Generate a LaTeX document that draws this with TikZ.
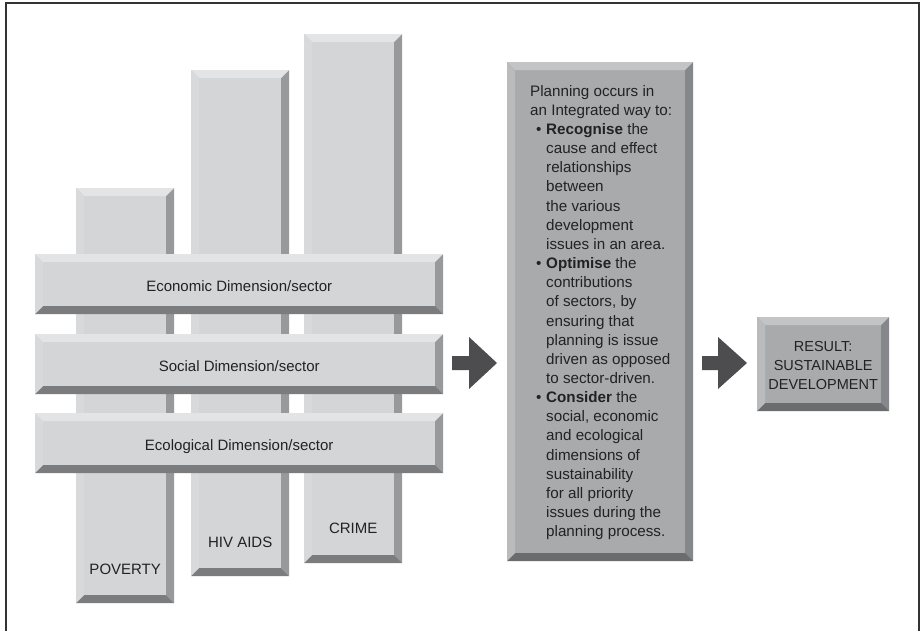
\documentclass[tikz,border=0pt]{standalone}
\usepackage{fontspec}
\setmainfont{Liberation Sans}
\usepackage{tikz}
\usetikzlibrary{positioning}

\definecolor{barface}{HTML}{D4D5D7}
\definecolor{barlight}{HTML}{E3E4E6}
\definecolor{barside}{HTML}{98999B}
\definecolor{barbottom}{HTML}{7B7C7E}
\definecolor{boxface}{HTML}{A9AAAC}
\definecolor{boxlight}{HTML}{C3C4C6}
\definecolor{boxside}{HTML}{86878A}
\definecolor{boxbottom}{HTML}{6B6C6E}
\definecolor{arrowgray}{HTML}{4D4D4F}
\definecolor{inktext}{HTML}{222222}

\newcommand{\bevw}{8pt}
\tikzset{
  bevel/.style n args = {4}{shape=rectangle, inner sep=0pt, fill=#1,
      path picture={
        \fill[#2] (path picture bounding box.north west)
          -- (path picture bounding box.north east)
          -- ([xshift=-\bevw,yshift=-\bevw]path picture bounding box.north east)
          -- ([xshift=\bevw,yshift=-\bevw]path picture bounding box.north west) -- cycle;
        \fill[#2!85!#3] (path picture bounding box.north west)
          -- ([xshift=\bevw,yshift=-\bevw]path picture bounding box.north west)
          -- ([xshift=\bevw,yshift=\bevw]path picture bounding box.south west)
          -- (path picture bounding box.south west) -- cycle;
        \fill[#3] (path picture bounding box.north east)
          -- (path picture bounding box.south east)
          -- ([xshift=-\bevw,yshift=\bevw]path picture bounding box.south east)
          -- ([xshift=-\bevw,yshift=-\bevw]path picture bounding box.north east) -- cycle;
        \fill[#4] (path picture bounding box.south west)
          -- (path picture bounding box.south east)
          -- ([xshift=-\bevw,yshift=\bevw]path picture bounding box.south east)
          -- ([xshift=\bevw,yshift=\bevw]path picture bounding box.south west) -- cycle;
      }},
  issuebar/.style = {bevel={barface}{barlight}{barside}{barbottom},
                     minimum width=98pt, anchor=north west},
  dimbar/.style   = {bevel={barface}{barlight}{barside}{barbottom},
                     minimum width=408pt, minimum height=60pt, anchor=north west},
  planbox/.style  = {bevel={boxface}{boxlight}{boxside}{boxbottom}, anchor=north west},
  label/.style    = {font=\fontsize{15}{17}\selectfont, text=inktext, inner sep=0pt},
  blockarrow/.style = {fill=arrowgray}
}
\newcommand{\itm}{\hspace*{6pt}\makebox[10pt][l]{\textbullet}}
\newcommand{\ind}{\hspace*{16pt}}

\begin{document}
\begin{tikzpicture}[x=1pt, y=-1pt]
\useasboundingbox (0,0) rectangle (920,631);
\fill[white] (0,0) rectangle (920,631);
\draw[line width=1.4pt, black!80] (6,631) -- (6,3) -- (919,3) -- (919,631);

% issue bars
\node[issuebar, minimum height=415pt] (poverty) at (76,188) {};
\node[issuebar, minimum height=506pt] (hiv)     at (191,70) {};
\node[issuebar, minimum height=529pt] (crime)   at (304,34) {};
\node[label, anchor=base] at ([yshift=29pt]poverty.south) {POVERTY};
\node[label, anchor=base] at ([yshift=29pt]hiv.south)     {HIV AIDS};
\node[label, anchor=base] at ([yshift=30pt]crime.south)   {CRIME};

% dimension bars
\node[dimbar] (econ) at (35,254) {};
\node[dimbar] (soc)  at (35,334) {};
\node[dimbar] (eco)  at (35,413) {};
\node[label, anchor=base] at ([yshift=-7pt]econ.center) {Economic Dimension/sector};
\node[label, anchor=base] at ([yshift=-7pt]soc.center)  {Social Dimension/sector};
\node[label, anchor=base] at ([yshift=-7pt]eco.center)  {Ecological Dimension/sector};

% planning box
\node[planbox, minimum width=186pt, minimum height=499pt] (plan) at (507,62) {};
\node[anchor=north west, align=left, inner sep=0pt, text=inktext,
      font=\fontsize{15.2}{19.15}\selectfont] (plantext) at (530,85) {%
Planning occurs in\\
an Integrated way to:\\
\itm\textbf{Recognise} the\\
\ind cause and effect\\
\ind relationships\\
\ind between\\
\ind the various\\
\ind development\\
\ind issues in an area.\\
\itm\textbf{Optimise} the\\
\ind contributions\\
\ind of sectors, by\\
\ind ensuring that\\
\ind planning is issue\\
\ind driven as opposed\\
\ind to sector-driven.\\
\itm\textbf{Consider} the\\
\ind social, economic\\
\ind and ecological\\
\ind dimensions of\\
\ind sustainability\\
\ind for all priority\\
\ind issues during the\\
\ind planning process.};

% result box
\node[planbox, minimum width=132pt, minimum height=94pt] (result) at (757,317) {};
\node[align=center, inner sep=0pt, text=inktext,
      font=\fontsize{14.5}{19}\selectfont] (resulttext) at ([yshift=-1pt]result.center)
  {RESULT:\\SUSTAINABLE\\DEVELOPMENT};

% arrows
\coordinate (a1) at (452,363);
\fill[blockarrow] (a1) -- ++(0,-7) -- ++(17,0) -- ++(0,-19) -- ++(28,26)
   -- ++(-28,26) -- ++(0,-19) -- ++(-17,0) -- cycle;
\coordinate (a2) at (702,363);
\fill[blockarrow] (a2) -- ++(0,-7) -- ++(16,0) -- ++(0,-19) -- ++(29,26)
   -- ++(-29,26) -- ++(0,-19) -- ++(-16,0) -- cycle;
\end{tikzpicture}
\end{document}
